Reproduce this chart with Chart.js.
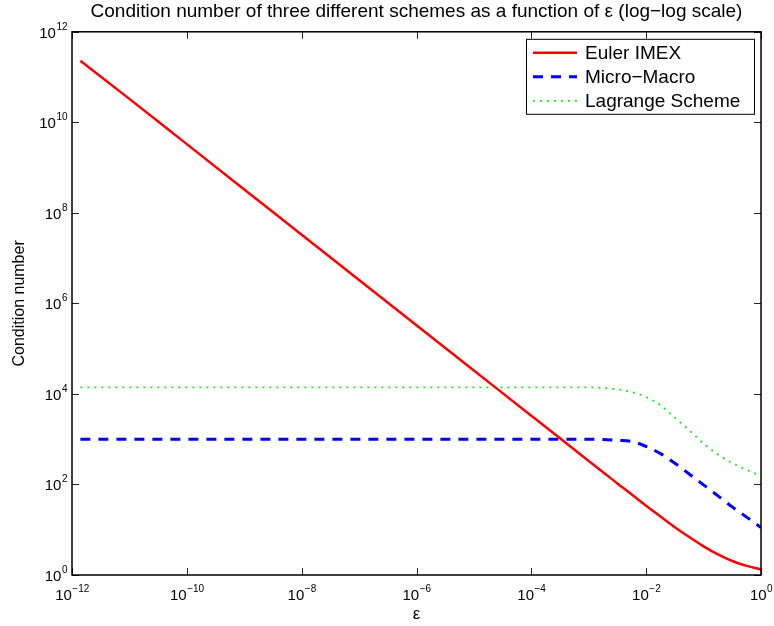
<!DOCTYPE html>
<html>
<head>
<meta charset="utf-8">
<script src="https://cdn.jsdelivr.net/npm/chart.js@4.4.1/dist/chart.umd.min.js"></script>
<style>
  html, body { margin: 0; padding: 0; background: #fff; }
  #wrap { width: 774px; height: 626px; }
</style>
</head>
<body>
<div id="wrap"><canvas id="condchart" width="774" height="626"></canvas></div>
<script>
// epsilon sample points
const epsValues = [1.4e-12, 1e-11, 1e-10, 1e-9, 1e-8, 1e-7, 1e-6, 1e-5, 1e-4, 3.16e-4,
  1e-3, 1.78e-3, 3.16e-3, 5.62e-3, 1e-2, 1.78e-2, 3.16e-2, 5.62e-2,
  1e-1, 1.78e-1, 3.16e-1, 5.62e-1, 1];

const eulerImex = [2.3e11, 3.3e10, 3.3e9, 3.3e8, 3.3e7, 3.3e6, 3.3e5, 3.3e4, 3300, 1045,
  331, 187, 105, 60, 34, 19.6, 11.4, 6.9,
  4.3, 2.86, 2.04, 1.59, 1.33];

const microMacro = [1000, 1000, 1000, 1000, 1000, 1000, 1000, 1000, 1000, 1000,
  1000, 980, 940, 890, 690, 480, 295, 170,
  98, 56, 32, 19, 11.2];

const lagrange = [14000, 14000, 14000, 14000, 14000, 14000, 14000, 14000, 14000, 14000,
  14000, 13500, 12600, 11000, 8500, 5600, 3000, 1580,
  800, 460, 300, 210, 155];

const xTicks = [1e-12, 1e-10, 1e-8, 1e-6, 1e-4, 1e-2, 1];
const yTicks = [1, 1e2, 1e4, 1e6, 1e8, 1e10, 1e12];

const FONT = "'Liberation Sans', Arial, Helvetica, sans-serif";

function toPoints(ys) {
  return epsValues.map((x, i) => ({x: x, y: ys[i]}));
}

// draws "10" with a small raised exponent, like matlab does
function drawPow(ctx, v, x, y, align) {
  const base = '10', exp = String(Math.round(Math.log10(v))).replace('-', '\u2212');
  ctx.font = '15px ' + FONT;
  const w1 = ctx.measureText(base).width;
  ctx.font = '10px ' + FONT;
  const w2 = ctx.measureText(exp).width;
  let left = align == 'right' ? x - w1 - w2 : x - (w1 + w2) / 2;
  ctx.font = '15px ' + FONT;
  ctx.fillText(base, left, y);
  ctx.font = '10px ' + FONT;
  ctx.fillText(exp, left + w1 + 0.5, y - 8);
}

// box round the axes, inward ticks on all four sides and the tick labels
const boxTicks = {
  id: 'boxTicks',
  afterDatasetsDraw(chart) {
    const ctx = chart.ctx;
    const a = chart.chartArea;
    const xs = chart.scales.x, ys = chart.scales.y;
    ctx.save();
    ctx.strokeStyle = '#262626';
    ctx.lineWidth = 1;
    ctx.beginPath();
    xTicks.forEach(v => {
      const px = Math.round(xs.getPixelForValue(v)) + 0.5;
      ctx.moveTo(px, a.bottom); ctx.lineTo(px, a.bottom - 7);
      ctx.moveTo(px, a.top); ctx.lineTo(px, a.top + 7);
    });
    yTicks.forEach(v => {
      const py = Math.round(ys.getPixelForValue(v)) + 0.5;
      ctx.moveTo(a.left, py); ctx.lineTo(a.left + 7, py);
      ctx.moveTo(a.right, py); ctx.lineTo(a.right - 7, py);
    });
    ctx.stroke();
    ctx.lineWidth = 1.5;
    ctx.strokeStyle = '#000';
    ctx.strokeRect(a.left, a.top, a.right - a.left, a.bottom - a.top);

    ctx.fillStyle = '#000';
    ctx.textBaseline = 'alphabetic';
    ctx.textAlign = 'left';
    xTicks.forEach(v => drawPow(ctx, v, xs.getPixelForValue(v), a.bottom + 25, 'center'));
    yTicks.forEach(v => drawPow(ctx, v, a.left - 5, ys.getPixelForValue(v) + 6, 'right'));
    ctx.restore();
  }
};

// matlab style legend box in the top right corner
const boxLegend = {
  id: 'boxLegend',
  afterDraw(chart) {
    const ctx = chart.ctx;
    const a = chart.chartArea;
    const w = 228, h = 75;
    const x0 = a.right - 7 - w, y0 = a.top + 7;
    ctx.save();
    ctx.fillStyle = '#fff';
    ctx.fillRect(x0, y0, w, h);
    ctx.strokeStyle = '#000';
    ctx.lineWidth = 1;
    ctx.strokeRect(x0 + 0.5, y0 + 0.5, w, h);
    ctx.font = '19px ' + FONT;
    ctx.textBaseline = 'middle';
    chart.data.datasets.forEach((ds, i) => {
      const cy = y0 + 14 + i * 24;
      ctx.strokeStyle = ds.borderColor;
      ctx.lineWidth = ds.borderWidth;
      ctx.setLineDash(ds.borderDash || []);
      ctx.beginPath();
      ctx.moveTo(x0 + 7, cy);
      ctx.lineTo(x0 + 51, cy);
      ctx.stroke();
      ctx.setLineDash([]);
      ctx.fillStyle = '#000';
      ctx.fillText(ds.label, x0 + 59, cy + 1);
    });
    ctx.restore();
  }
};

const data = {
  datasets: [
    {
      label: 'Euler IMEX',
      data: toPoints(eulerImex),
      borderColor: '#ff0000',
      borderWidth: 2.5,
      pointRadius: 0,
      cubicInterpolationMode: 'monotone'
    },
    {
      label: 'Micro\u2212Macro',
      data: toPoints(microMacro),
      borderColor: '#0000ff',
      borderWidth: 3,
      borderDash: [10, 8],
      pointRadius: 0,
      cubicInterpolationMode: 'monotone'
    },
    {
      label: 'Lagrange Scheme',
      data: toPoints(lagrange),
      borderColor: '#11f011',
      borderWidth: 1.8,
      borderDash: [2, 5],
      pointRadius: 0,
      cubicInterpolationMode: 'monotone'
    }
  ]
};

const config = {
  type: 'line',
  data: data,
  options: {
    responsive: false,
    animation: false,
    layout: { padding: { left: 0, right: 13, top: 0, bottom: 0 } },
    plugins: {
      legend: { display: false },
      tooltip: { enabled: false },
      title: {
        display: true,
        fullSize: false,
        text: 'Condition number of three different schemes as a function of \u03B5 (log\u2212log scale)',
        color: '#000',
        font: { family: FONT, size: 19, weight: 'normal' },
        padding: { top: 0, bottom: 9 }
      }
    },
    scales: {
      x: {
        type: 'logarithmic',
        min: 1e-12,
        max: 1,
        afterBuildTicks: s => { s.ticks = xTicks.map(v => ({value: v})); },
        afterFit: s => { s.height = 51; },
        grid: { display: false, drawTicks: false },
        border: { display: false },
        ticks: { display: false },
        title: {
          display: true,
          text: '\u03B5',
          color: '#000',
          font: { family: FONT, size: 17 },
          padding: { top: 2, bottom: 1 }
        }
      },
      y: {
        type: 'logarithmic',
        min: 1,
        max: 1e12,
        afterBuildTicks: s => { s.ticks = yTicks.map(v => ({value: v})); },
        afterFit: s => { s.width = 72; },
        grid: { display: false, drawTicks: false },
        border: { display: false },
        ticks: { display: false },
        title: {
          display: true,
          text: 'Condition number',
          color: '#000',
          font: { family: FONT, size: 16 },
          padding: { top: 10, bottom: 0 }
        }
      }
    }
  },
  plugins: [boxTicks, boxLegend]
};

const ctx = document.getElementById('condchart').getContext('2d');
const chart = new Chart(ctx, config);
</script>
</body>
</html>
